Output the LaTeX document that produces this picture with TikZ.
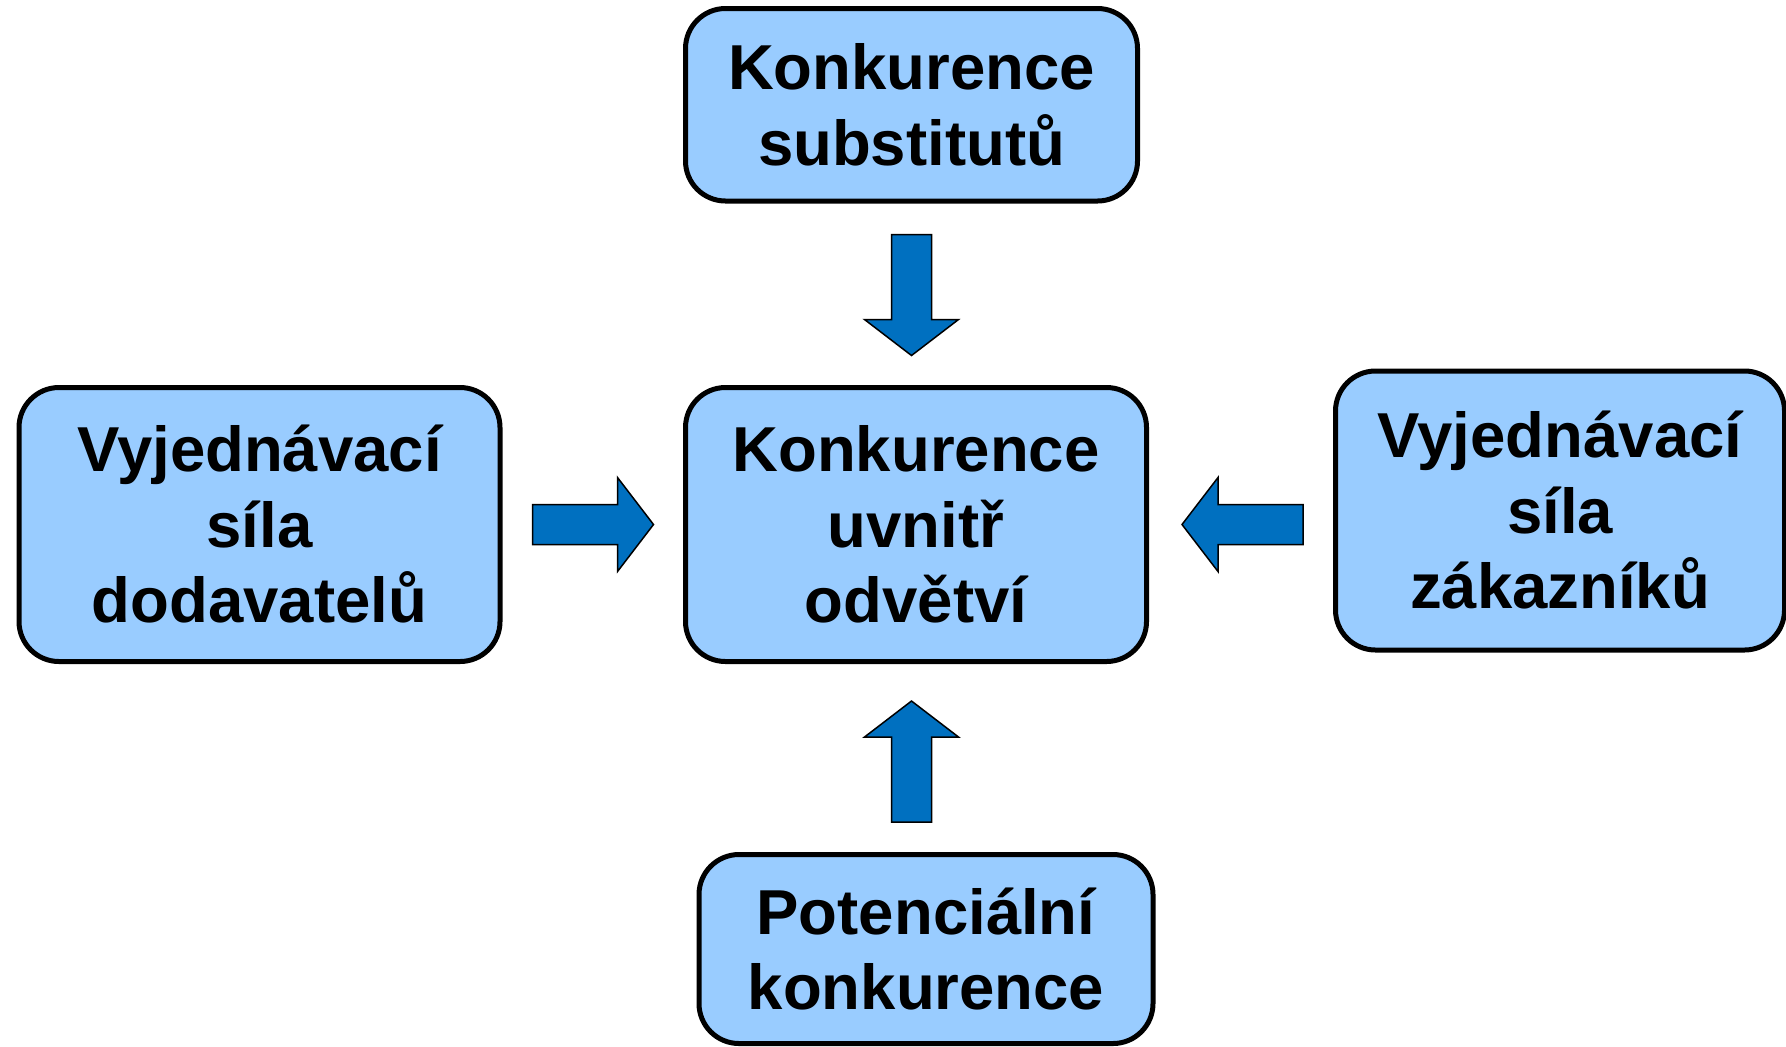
\documentclass[tikz,border=0pt]{standalone}
\usepackage{fontspec}
\setmainfont{Liberation Sans}
\usetikzlibrary{calc}
\definecolor{boxblue}{RGB}{153,204,255}
\definecolor{arrowblue}{RGB}{0,112,192}
\tikzset{
  force/.style={draw, line width=2.5pt, fill=boxblue, rounded corners=20pt,
    align=center, inner sep=0pt,
    font=\fontsize{31.75}{37.75}\selectfont\bfseries},
  arrowbody/.style={draw, line width=0.75pt, fill=arrowblue, line join=miter},
  blockarrow/.pic={
    \draw[arrowbody] (0,-20) -- (85,-20) -- (85,-47) -- (121,0)
      -- (85,47) -- (85,20) -- (0,20) -- cycle;
  }
}

\begin{document}
\begin{tikzpicture}[x=0.5pt,y=-0.5pt]
  \useasboundingbox (0,0) rectangle (1786,1046);

  \node[force, minimum width=226pt, minimum height=96.25pt] (sub) at (911.5,104.75)
    {Konkurence\\substitutů};
  \node[force, minimum width=230.5pt, minimum height=137pt] (ind) at (916,524.5)
    {Konkurence\\uvnitř\\odvětví};
  \node[force, minimum width=240.5pt, minimum height=137pt] (dod) at (259.5,524.5)
    {Vyjednávací\\síla\\dodavatelů};
  \node[force, minimum width=224.5pt, minimum height=139.5pt] (zak) at (1560,510.5)
    {Vyjednávací\\síla\\zákazníků};
  \node[force, minimum width=227pt, minimum height=94.5pt] (pot) at (926,949)
    {Potenciální\\konkurence};

  % forces pointing at the industry
  \pic[rotate=-90] at ($(sub.south)+(0,31)$) {blockarrow};
  \pic[rotate=90] at ($(sub.south |- pot.north)+(0,-30)$) {blockarrow};
  \pic at ($(dod.east)+(30,0)$) {blockarrow};
  \pic[rotate=180] at ($(ind.east -| zak.west)+(-30,0)$) {blockarrow};
\end{tikzpicture}
\end{document}
